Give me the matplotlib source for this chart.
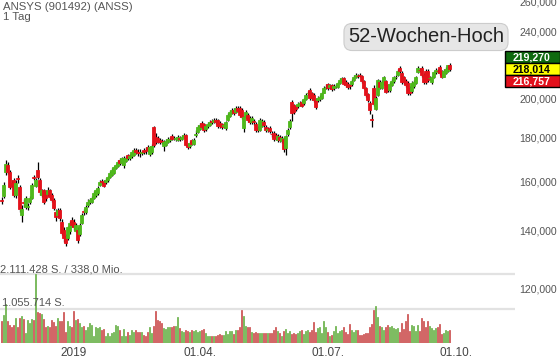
import numpy as np
import matplotlib
matplotlib.use("Agg")
import matplotlib.pyplot as plt
from matplotlib.patches import Rectangle
from matplotlib.ticker import NullLocator, FixedLocator, FuncFormatter

plt.rcParams['font.family'] = ['Liberation Sans', 'DejaVu Sans']

# daily candles, price in 1000s (shown as 219,270 -> 219.270)
opens = [
    152.4, 153.8, 164.4, 167.4, 164.3, 159.5, 160.8, 154.4, 161.5, 157.5,
    146.3, 151.6, 149.2, 149.5, 151.6, 153.2, 162.0, 158.2, 165.2, 160.8,
    154.4, 156.5, 155.7, 154.8, 156.5, 154.4, 152.4, 147.5, 146.3, 148.3,
    143.6, 140.5, 138.0, 137.2, 139.9, 144.4, 143.6, 140.1, 140.5, 138.7,
    143.2, 147.7, 147.3, 150.3, 151.2, 151.6, 153.2, 154.4, 155.3, 158.6,
    160.4, 159.9, 159.9, 160.8, 162.1, 163.0, 163.9, 166.1, 167.0, 169.7,
    168.3, 167.4, 169.2, 172.0, 170.6, 171.5, 172.0, 174.3, 173.4, 173.4,
    173.0, 174.3, 174.3, 175.6, 172.5, 173.4, 185.5, 180.6, 180.2, 179.1,
    178.6, 176.2, 176.7, 178.2, 178.9, 181.0, 180.2, 179.5, 179.1, 180.2,
    179.7, 180.6, 181.5, 176.7, 176.2, 179.1, 177.2, 181.5, 183.0, 184.5,
    187.5, 187.0, 184.5, 185.8, 186.5, 188.5, 188.0, 189.0, 189.0, 187.5,
    187.0, 186.0, 185.0, 189.0, 191.0, 192.5, 194.2, 193.0, 195.0, 195.2,
    194.2, 185.0, 190.6, 191.6, 190.0, 188.0, 188.5, 187.0, 185.0, 184.0,
    186.0, 188.0, 185.5, 184.0, 185.0, 182.0, 182.5, 181.5, 179.0, 180.5,
    178.5, 179.5, 175.0, 182.0, 185.5, 198.5, 196.8, 196.5, 196.0, 197.5,
    198.5, 198.0, 200.0, 203.0, 205.0, 203.0, 202.0, 199.5, 199.5, 200.0,
    200.5, 203.5, 206.5, 208.0, 206.7, 207.5, 206.0, 207.0, 206.8, 208.8,
    210.0, 211.8, 209.5, 208.5, 207.7, 208.0, 210.5, 212.0, 213.0, 213.2,
    212.8, 210.0, 206.0, 202.5, 198.0, 189.5, 206.0, 194.8, 202.2, 209.5,
    206.2, 208.5, 210.0, 207.5, 205.0, 207.5, 210.0, 212.0, 213.5, 217.5,
    214.5, 212.0, 210.0, 209.0, 206.0, 204.5, 207.0, 209.0, 215.0, 216.5,
    217.5, 213.5, 216.0, 216.0, 211.5, 209.5, 212.0, 215.0, 216.0, 218.0,
    216.0, 212.5, 214.5, 215.5, 219.3]
closes = [
    152.0, 158.6, 168.0, 164.3, 157.7, 158.6, 154.4, 159.5, 161.0, 148.7,
    148.7, 151.0, 153.2, 149.9, 153.2, 158.6, 161.6, 160.8, 162.2, 155.7,
    156.5, 151.6, 153.2, 156.5, 153.6, 152.4, 149.1, 145.5, 148.3, 145.1,
    139.3, 137.2, 135.7, 141.6, 143.2, 142.4, 141.6, 142.4, 136.8, 142.4,
    146.3, 147.3, 149.5, 151.6, 152.4, 153.2, 155.3, 156.5, 157.3, 159.9,
    159.9, 158.2, 160.8, 162.1, 163.9, 165.2, 166.5, 167.4, 168.7, 168.3,
    170.6, 170.6, 170.6, 170.6, 171.5, 173.4, 174.3, 173.4, 173.0, 172.9,
    173.4, 173.4, 173.9, 174.3, 175.6, 176.2, 176.7, 178.6, 178.2, 178.2,
    178.2, 178.2, 178.6, 179.5, 179.5, 179.5, 180.0, 179.8, 180.6, 179.7,
    180.6, 181.5, 176.7, 175.5, 177.8, 177.2, 179.1, 182.0, 185.5, 186.5,
    185.5, 184.0, 185.8, 187.0, 188.0, 188.0, 189.0, 187.8, 185.8, 186.0,
    185.5, 186.5, 188.0, 191.6, 193.0, 194.0, 192.5, 195.0, 193.5, 191.6,
    190.6, 190.6, 193.0, 189.0, 187.8, 190.0, 188.0, 184.0, 184.0, 189.0,
    188.5, 186.5, 184.0, 184.2, 183.5, 181.8, 179.5, 180.0, 181.0, 179.0,
    180.0, 174.5, 181.0, 184.0, 188.5, 192.5, 193.0, 194.5, 197.5, 197.8,
    196.5, 200.0, 202.0, 203.3, 200.5, 200.5, 199.5, 195.5, 200.5, 201.0,
    203.5, 206.0, 206.8, 206.0, 207.7, 205.5, 207.0, 207.2, 208.8, 210.5,
    211.5, 208.5, 207.7, 206.5, 207.0, 210.0, 212.5, 213.5, 212.8, 213.0,
    209.8, 206.3, 202.2, 199.5, 194.2, 189.2, 197.5, 200.5, 210.5, 206.8,
    209.5, 212.0, 204.0, 205.0, 208.5, 210.0, 212.0, 212.3, 216.0, 215.5,
    209.5, 209.5, 207.5, 203.0, 203.0, 209.0, 209.5, 212.0, 217.5, 216.2,
    213.5, 209.5, 209.5, 210.5, 211.8, 212.0, 215.0, 216.3, 215.8, 214.5,
    212.5, 216.0, 217.0, 219.0, 216.8]
highs = [
    153.5, 160.0, 169.7, 168.5, 165.0, 160.5, 161.5, 160.5, 163.0, 158.5,
    150.0, 152.5, 154.0, 151.0, 154.0, 159.5, 163.0, 161.5, 168.8, 161.5,
    157.0, 157.0, 156.5, 157.5, 157.0, 155.0, 153.0, 148.5, 149.0, 149.0,
    144.5, 141.5, 139.0, 142.0, 144.0, 145.5, 144.5, 143.0, 141.5, 143.0,
    147.0, 148.5, 150.0, 152.5, 153.0, 154.0, 156.0, 157.0, 158.0, 160.5,
    161.0, 160.5, 161.5, 162.5, 164.5, 166.0, 167.0, 168.0, 169.5, 170.5,
    171.0, 171.5, 171.5, 172.5, 172.5, 174.0, 175.0, 175.0, 174.5, 174.5,
    174.0, 175.0, 175.5, 176.5, 176.0, 177.0, 186.0, 182.5, 181.0, 180.0,
    179.5, 179.0, 179.5, 180.5, 180.5, 182.0, 181.0, 180.5, 181.5, 181.0,
    181.5, 182.5, 182.0, 177.5, 178.5, 179.5, 180.0, 184.0, 186.5, 187.5,
    188.5, 187.5, 186.5, 188.0, 189.0, 189.5, 190.0, 190.0, 189.5, 188.5,
    187.5, 187.5, 188.5, 192.5, 194.0, 195.0, 195.0, 196.0, 196.5, 196.0,
    195.0, 191.0, 194.0, 192.5, 191.0, 191.0, 189.5, 188.0, 186.0, 190.0,
    189.5, 189.0, 186.5, 185.5, 186.0, 183.5, 183.5, 182.5, 182.0, 181.5,
    181.0, 180.5, 181.5, 185.0, 189.5, 199.5, 197.5, 197.0, 198.5, 199.0,
    199.5, 200.5, 203.0, 204.5, 206.0, 204.0, 203.0, 200.5, 201.5, 202.0,
    204.0, 207.0, 208.0, 209.0, 208.5, 208.5, 208.0, 208.5, 209.5, 211.5,
    212.5, 212.5, 210.5, 209.5, 208.5, 211.0, 213.5, 214.5, 214.0, 214.5,
    213.5, 210.5, 206.5, 203.5, 199.0, 192.0, 207.5, 201.5, 211.0, 210.5,
    210.5, 213.0, 210.5, 208.0, 209.5, 211.0, 213.0, 213.5, 217.0, 218.5,
    215.5, 213.0, 211.0, 210.0, 207.0, 210.0, 210.5, 213.0, 218.5, 217.5,
    218.5, 214.5, 217.0, 217.0, 213.0, 213.0, 216.0, 217.5, 217.0, 219.0,
    216.5, 217.0, 218.0, 219.5, 220.2]
lows = [
    150.5, 153.0, 163.0, 163.5, 157.0, 157.5, 153.5, 153.0, 159.5, 147.5,
    143.5, 149.5, 148.5, 148.0, 150.5, 152.5, 160.5, 157.5, 161.0, 154.5,
    153.5, 150.5, 152.0, 154.0, 152.5, 151.5, 148.0, 144.0, 145.5, 144.0,
    138.5, 136.0, 134.5, 136.5, 139.0, 141.5, 140.5, 139.5, 135.5, 138.0,
    142.5, 146.0, 146.5, 149.5, 150.5, 151.0, 152.5, 153.5, 154.5, 158.0,
    159.0, 157.5, 159.0, 160.0, 161.5, 162.5, 163.5, 165.5, 166.5, 167.5,
    167.5, 166.0, 168.5, 169.5, 169.5, 170.5, 171.5, 172.5, 171.5, 171.0,
    172.0, 172.5, 172.5, 173.5, 171.5, 172.5, 175.5, 177.0, 177.5, 177.0,
    177.0, 174.0, 176.0, 177.5, 178.0, 179.0, 179.0, 178.5, 178.5, 178.5,
    179.0, 180.0, 176.0, 174.5, 175.0, 176.5, 176.5, 180.5, 182.5, 184.0,
    185.0, 183.0, 183.5, 185.0, 186.0, 187.0, 187.5, 187.0, 185.0, 185.0,
    184.5, 185.0, 184.0, 188.5, 190.5, 192.0, 191.5, 192.5, 193.0, 190.5,
    189.5, 183.0, 190.0, 188.0, 187.0, 187.0, 186.5, 183.0, 183.0, 183.5,
    185.5, 185.5, 183.0, 183.0, 182.5, 180.5, 178.5, 179.0, 178.0, 178.0,
    177.5, 173.5, 172.0, 181.0, 184.5, 188.5, 192.0, 193.5, 195.0, 196.5,
    195.5, 197.0, 199.5, 202.0, 199.5, 199.5, 198.5, 194.5, 198.5, 199.0,
    200.0, 203.0, 205.5, 205.0, 205.5, 204.5, 205.0, 206.0, 206.0, 208.0,
    209.5, 207.5, 206.5, 205.5, 205.5, 207.0, 210.0, 211.5, 211.5, 212.0,
    209.0, 205.5, 201.0, 198.5, 192.0, 185.5, 196.0, 194.0, 201.5, 205.5,
    205.5, 207.5, 203.0, 204.0, 204.0, 207.0, 209.0, 211.0, 213.0, 214.5,
    208.5, 208.5, 206.5, 202.0, 202.0, 203.5, 206.0, 208.5, 214.5, 215.0,
    212.5, 208.5, 208.5, 209.5, 210.5, 208.5, 211.5, 214.0, 214.5, 213.5,
    211.5, 212.0, 214.0, 215.0, 215.8]
# volume in million shares
volumes = [
    0.66, 0.87, 1.18, 0.68, 0.56, 0.49, 0.56, 0.77, 0.49, 0.77,
    0.82, 0.73, 0.30, 0.71, 0.61, 0.73, 0.71, 2.11, 0.94, 0.92,
    0.90, 0.73, 0.49, 0.53, 0.49, 0.69, 0.63, 0.53, 0.77, 0.66,
    0.66, 0.94, 0.35, 0.68, 0.53, 0.49, 0.97, 0.71, 0.73, 0.61,
    0.49, 0.53, 0.40, 0.49, 0.61, 0.56, 0.20, 0.49, 0.46, 0.49,
    0.40, 0.42, 0.22, 0.30, 0.20, 0.30, 0.35, 0.56, 0.51, 0.40,
    0.22, 0.42, 0.20, 0.35, 0.25, 0.40, 0.35, 0.40, 0.35, 0.35,
    0.35, 0.25, 0.20, 0.35, 0.49, 0.32, 0.53, 0.99, 0.69, 0.66,
    0.61, 0.46, 0.42, 0.49, 0.49, 0.49, 0.53, 0.53, 0.80, 0.46,
    0.38, 0.35, 0.40, 0.38, 0.35, 0.40, 0.38, 0.40, 0.35, 0.38,
    0.40, 0.42, 0.30, 0.22, 0.22, 0.22, 0.20, 0.20, 0.25, 0.27,
    0.25, 0.25, 0.38, 0.28, 0.38, 0.38, 0.28, 0.40, 0.40, 0.49,
    1.00, 0.84, 0.53, 0.49, 0.49, 0.35, 0.32, 0.35, 0.32, 0.32,
    0.32, 0.30, 0.30, 0.32, 0.30, 0.30, 0.40, 0.49, 0.38, 0.30,
    0.22, 0.38, 0.42, 0.32, 0.38, 0.28, 0.30, 0.28, 0.30, 0.38,
    0.40, 0.28, 0.38, 0.40, 0.35, 0.40, 0.63, 0.35, 0.46, 0.49,
    0.30, 0.66, 0.49, 0.35, 0.22, 0.25, 0.38, 0.51, 0.30, 0.38,
    0.40, 0.49, 0.35, 0.28, 0.59, 0.40, 0.35, 0.40, 0.40, 0.23,
    0.25, 0.28, 0.30, 0.30, 0.49, 0.58, 1.00, 1.13, 0.80, 0.53,
    0.49, 0.40, 0.49, 0.56, 0.49, 0.51, 0.46, 0.42, 0.46, 0.35,
    0.61, 0.42, 0.66, 0.90, 0.38, 0.56, 0.53, 0.38, 0.56, 0.38,
    0.77, 0.66, 0.49, 0.67, 0.53, 0.46, 0.40, 0.46, 0.49, 0.59,
    0.28, 0.32, 0.40, 0.38, 0.40]

tick_pos = [36, 99, 163, 227]
tick_labels = ['2019', '01.04.', '01.07.', '01.10.']
price_ticks = [120, 140, 160, 180, 200, 240, 260]
vol_lines = [1.055714, 2.111428]
quote_labels = ['219,270', '218,014', '216,757']

o = np.array(opens)
c = np.array(closes)
h = np.array(highs)
l = np.array(lows)
v = np.array(volumes)
x = np.arange(len(o))
up = c >= o

green = '#4fb81c'
red = '#e3121b'
txt = '#555555'

W, H = 560, 363
fig = plt.figure(figsize=(W / 100, H / 100), dpi=100)
rect = [0, 20 / H, 515 / W, 343 / H]
ax = fig.add_axes(rect)
vax = ax.twinx()
ax.set_zorder(vax.get_zorder() + 1)
ax.patch.set_visible(False)

# volume
vcol = np.where(up, '#8fd66c', '#ec6f6f')
vedge = np.where(up, '#5fa83e', '#c44545')
vax.bar(x, v, width=0.9, color=vcol, edgecolor=vedge, linewidth=0.5)
for lv in vol_lines:
    vax.axhline(lv, color='#e2e2e2', linewidth=1.6, zorder=0)
vax.set_ylim(0, 2.111428 * 343 / 69)
vax.set_yticks([])
vax.text(0.0, 2.111428, '2.111.428 S. / 338,0 Mio.', transform=vax.get_yaxis_transform(),
         ha='left', va='bottom', fontsize=8, color=txt)
vax.text(0.003, 1.055714, '1.055.714 S.', transform=vax.get_yaxis_transform(),
         ha='left', va='bottom', fontsize=8, color=txt)

# candles
ax.vlines(x, l, h, color='black', linewidth=0.9, zorder=2)
bottoms = np.minimum(o, c)
heights = np.abs(c - o)
ccol = np.where(up, green, red)
ax.bar(x, heights, bottom=bottoms, width=1.4, color=ccol, edgecolor=ccol,
       linewidth=0.6, zorder=3)

ax.set_yscale('log')
ax.set_ylim(200 * np.exp(-244 / 370), 200 * np.exp(99 / 370))
ax.set_xlim(-0.75, 256.75)
ax.yaxis.set_minor_locator(NullLocator())
ax.yaxis.set_major_locator(FixedLocator(price_ticks))
ax.yaxis.set_major_formatter(FuncFormatter(lambda val, pos: f"{val:.3f}".replace('.', ',')))
ax.yaxis.tick_right()
ax.tick_params(axis='y', length=0, pad=3, labelsize=7.6, labelcolor=txt)
ax.set_xticks(tick_pos)
ax.set_xticklabels(tick_labels)
ax.tick_params(axis='x', length=0, pad=3, labelsize=8.5, labelcolor='#444444')
for a in (ax, vax):
    for s in a.spines.values():
        s.set_visible(False)

# header
fig.text(3 / W, 1 - 7 / H, 'ANSYS (901492) (ANSS)', fontsize=8.2, color=txt, va='center')
fig.text(3 / W, 1 - 17 / H, '1 Tag', fontsize=8.2, color=txt, va='center')

fig.text(426 / W, 1 - 37 / H, '52-Wochen-Hoch', fontsize=14.5, color='#222222',
         ha='center', va='center',
         bbox=dict(boxstyle='round,pad=0.2,rounding_size=0.4', fc='#e6e6e6', ec='#cccccc', lw=0.8))

# quote boxes
box_fc = ['#0f6a0f', '#ffff00', '#e2101c']
box_tc = ['white', 'black', 'white']
for k in range(3):
    y0 = 51 + 12 * k
    fig.patches.append(Rectangle((505 / W, 1 - (y0 + 12) / H), 55 / W, 12 / H,
                                 transform=fig.transFigure, fc=box_fc[k], ec='black', lw=1.0))
    fig.text(532 / W, 1 - (y0 + 6.5) / H, quote_labels[k], fontsize=7.6, color=box_tc[k],
             ha='center', va='center', fontweight='bold')

plt.savefig('out.png', dpi=100)
